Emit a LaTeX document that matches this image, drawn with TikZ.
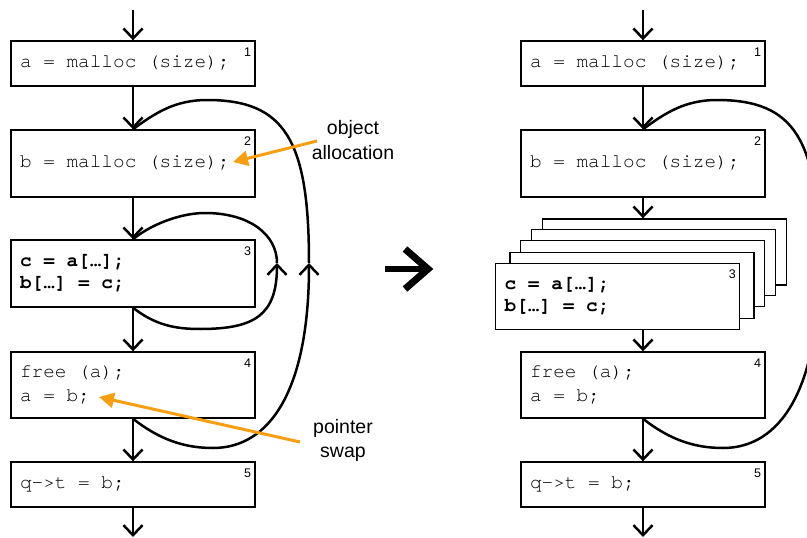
\documentclass[tikz,border=0pt]{standalone}
\usepackage{fontspec}
\setmainfont{Liberation Sans}
\setmonofont{TeX Gyre Cursor}[Kerning=Off,Ligatures=NoCommon]
\usetikzlibrary{arrows.meta}
\definecolor{orng}{RGB}{247,158,18}
% monospaced code text: every space is one full character cell
\newcommand{\fixspace}{\fontdimen2\font=11.64pt\fontdimen3\font=0pt\fontdimen4\font=0pt\relax}
\newcommand{\hs}{\hspace*{11.64pt}}
\newcommand{\codefont}{\ttfamily\fontsize{19.4}{24}\selectfont\fixspace}
\newcommand{\boldcode}{\ttfamily\bfseries\fontsize{19.4}{22}\selectfont\fixspace}

\begin{document}
\begin{tikzpicture}[x=1pt,y=-1pt,
  box/.style={draw, line width=1.4pt, fill=white, rectangle, minimum width=244pt,
    text width=226pt, align=left, inner xsep=9pt, inner ysep=0pt, font=\codefont},
  boldbox/.style={box, font=\boldcode},
  num/.style={anchor=north east, inner sep=0pt, font=\fontsize{12.5}{12.5}\selectfont},
  conn/.style={line width=2.5pt, -{Straight Barb[length=10pt,width=19pt]}},
  loopline/.style={line width=2.5pt},
  note/.style={draw=orng, line width=3pt, -{Triangle[length=15pt,width=15pt]}},
  lbl/.style={anchor=base, inner sep=0pt, font=\fontsize{19.5}{24}\selectfont},
]
\useasboundingbox (0,0) rectangle (807,538);
\clip (0,0) rectangle (807,538);

% ---------- original loop nest (left) ----------
\node[box, minimum height=45pt] (L1) at (133,63.5) {a\hs=\hs malloc\hs(size);};
\node[box, minimum height=67pt] (L2) at (133,163.5) {b\hs=\hs malloc\hs(size);};
\node[boldbox, minimum height=67pt] (L3) at (133,273.5) {c\hs=\hs a[…];\\b[…]\hs=\hs c;};
\node[box, minimum height=66pt] (L4) at (133,385) {free\hs(a);\\a\hs=\hs b;};
\node[box, minimum height=45pt] (L5) at (133,484.5) {q->t\hs=\hs b;};

\foreach \b/\n in {L1/1,L2/2,L3/3,L4/4,L5/5}
  \node[num] (\b num) at ([xshift=-4.5pt,yshift=-7pt]\b.north east) {\n};

\coordinate (Ltop) at (133,10);
\coordinate (Lbot) at (133,537);
\draw[conn] (Ltop) -- (L1.north);
\draw[conn] (L1.south) -- (L2.north);
\draw[conn] (L2.south) -- (L3.north);
\draw[conn] (L3.south) -- (L4.north);
\draw[conn] (L4.south) -- (L5.north);
\draw[conn] (L5.south) -- (Lbot);

% inner back edge around block 3
\coordinate (m1) at (277,263);
\draw[conn] (L3.south) .. controls (155,325) and (175,329) .. (200,329)
  .. controls (255,329) and (277,315) .. (m1);
\draw[loopline] (m1) .. controls (277,235) and (250,213) .. (205,213)
  .. controls (180,213) and (150,225) .. (L3.north);

% outer back edge from block 4 to block 2
\coordinate (m2) at (309,263);
\draw[conn] (L4.south) .. controls (160,440) and (185,448) .. (213,448)
  .. controls (270,448) and (309,390) .. (m2);
\draw[loopline] (m2) .. controls (309,140) and (285,100) .. (207,100)
  .. controls (175,100) and (155,113) .. (L2.north);

% ---------- transformed version (right) ----------
\node[box, minimum height=45pt] (R1) at (643,63.5) {a\hs=\hs malloc\hs(size);};
\node[box, minimum height=67pt] (R2) at (643,163.5) {b\hs=\hs malloc\hs(size);};
\node[box, minimum height=66pt] (S4) at (664.7,252) {};
\node[box, minimum height=66pt] (S3) at (653.7,262.3) {};
\node[box, minimum height=66pt] (S2) at (642.7,273.7) {};
\node[box, minimum height=66pt] (S1) at (632,285.3) {};
\node[boldbox, minimum height=66pt] (R3) at (617.7,296.3) {c\hs=\hs a[…];\\b[…]\hs=\hs c;};
\node[box, minimum height=66pt] (R4) at (643,385) {free\hs(a);\\a\hs=\hs b;};
\node[box, minimum height=45pt] (R5) at (643,484.5) {q->t\hs=\hs b;};

\foreach \b/\n in {R1/1,R2/2,R3/3,R4/4,R5/5}
  \node[num] (\b num) at ([xshift=-4.5pt,yshift=-7pt]\b.north east) {\n};

\coordinate (Rtop) at (643,10);
\coordinate (Rbot) at (643,537);
\draw[conn] (Rtop) -- (R1.north);
\draw[conn] (R1.south) -- (R2.north);
\draw[conn] (R2.south) -- (R2.south |- S4.north);
\draw[conn] (R4.north |- R3.south) -- (R4.north);
\draw[conn] (R4.south) -- (R5.north);
\draw[conn] (R5.south) -- (Rbot);

\coordinate (m3) at (819,263);
\draw[conn] (R4.south) .. controls (670,440) and (695,448) .. (723,448)
  .. controls (780,448) and (819,390) .. (m3);
\draw[loopline] (m3) .. controls (819,140) and (795,100) .. (717,100)
  .. controls (685,100) and (665,113) .. (R2.north);

% ---------- big transformation arrow ----------
\draw[line width=6pt] (385,269) -- (424,269);
\draw[line width=7pt, miter limit=10] (405,249) -- (428,269) -- (405,289);

% ---------- annotations ----------
\coordinate (oaS) at (317,141);
\coordinate (oaT) at (233,162);
\coordinate (psS) at (300,442);
\coordinate (psT) at (99,397);
\draw[note] (oaS) -- (oaT);
\draw[note] (psS) -- (psT);
\node[lbl] (objA) at (353,134.5) {object};
\node[lbl] (objB) at (353,159) {allocation};
\node[lbl] (ptrA) at (343,433.5) {pointer};
\node[lbl] (ptrB) at (343,457.5) {swap};
\end{tikzpicture}
\end{document}
